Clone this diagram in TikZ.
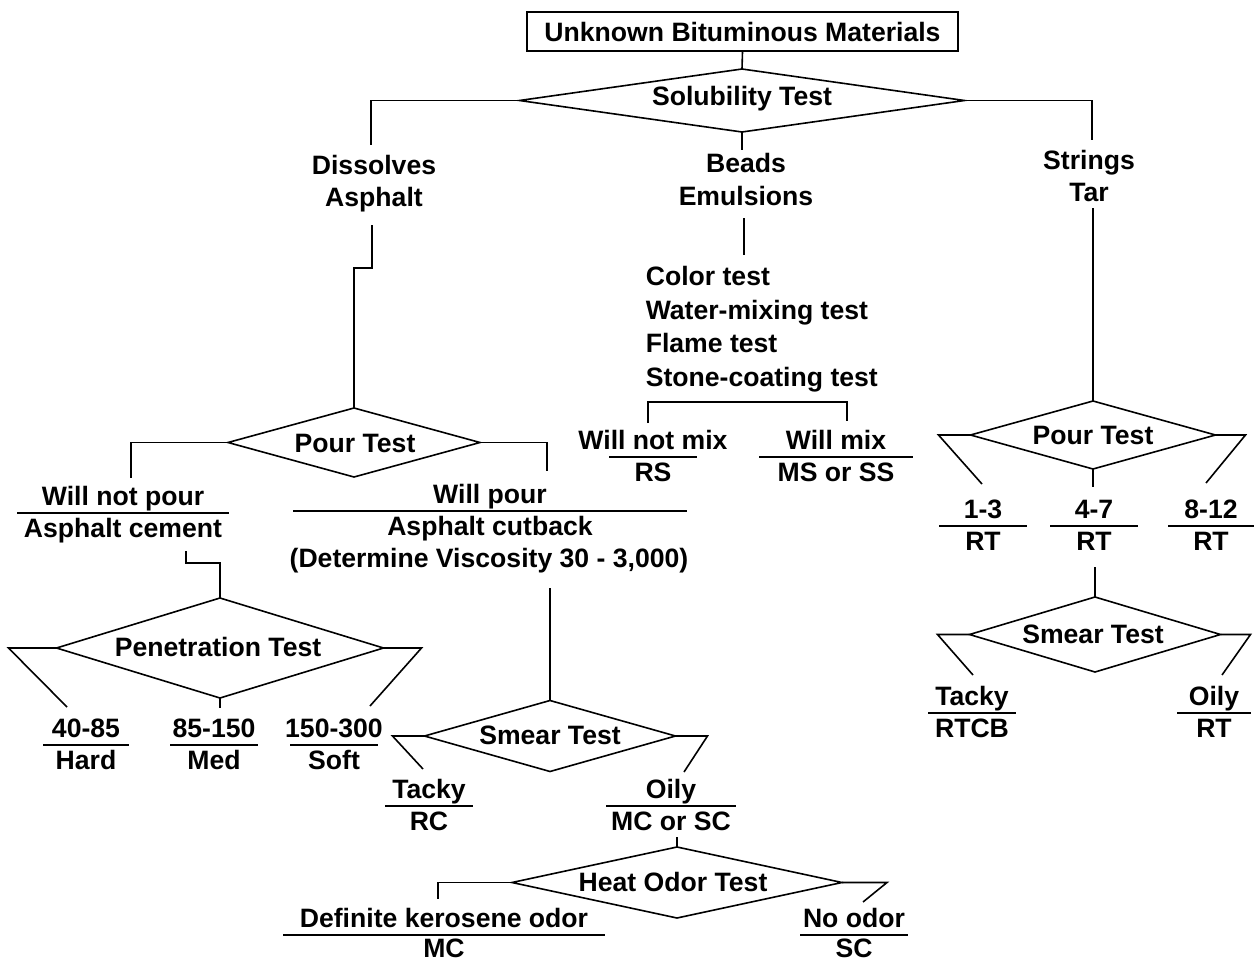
\documentclass[tikz,border=0pt]{standalone}
\usepackage{fontspec}
\setmainfont{Liberation Sans}
\usetikzlibrary{shapes.geometric}
\newcommand\dfont{\fontsize{26.6}{32}\selectfont\bfseries}
\newcommand\frc[7][24]{%
  \coordinate (#2l) at ({#3-#5},#4);
  \coordinate (#2r) at ({#3+#5},#4);
  \draw (#2l) -- (#2r);
  \node[t] (#2a) at (#3,{#4-8}) {#6};
  \node[t] (#2b) at (#3,{#4+#1}) {#7};
}
\begin{document}
\begin{tikzpicture}[x=1pt,y=-1pt,line width=1.6pt,
  t/.style={font=\dfont,inner sep=0pt,anchor=base},
  tl/.style={font=\dfont,inner sep=0pt,anchor=base west},
  dia/.style={diamond,draw,inner sep=0pt,outer sep=0pt,line width=1.6pt},
  dlab/.style={font=\dfont,inner sep=0pt}]
\useasboundingbox[fill=white] (0,0) rectangle (1254,964);

% top box
\node[draw,font=\dfont,inner sep=0pt,minimum width=431,minimum height=39] (box) at (742.5,31.5) {Unknown Bituminous Materials};

% diamonds
\node[dia,minimum width=445,minimum height=63] (sol) at (742,100.5) {};
\node[dlab] (solt) at (742,99) {Solubility Test};
\node[dia,minimum width=252,minimum height=69] (pour1) at (354,442.5) {};
\node[dlab] (pour1t) at (355,443) {Pour Test};
\node[dia,minimum width=327,minimum height=100] (pen) at (220,648) {};
\node[dlab] (pent) at (218,647) {Penetration Test};
\node[dia,minimum width=251,minimum height=71] (sm1) at (550,736) {};
\node[dlab] (sm1t) at (550,735) {Smear Test};
\node[dia,minimum width=330,minimum height=71] (heat) at (677,882.5) {};
\node[dlab] (heatt) at (673,882) {Heat Odor Test};
\node[dia,minimum width=245,minimum height=68] (pour2) at (1093,435) {};
\node[dlab] (pour2t) at (1093,435) {Pour Test};
\node[dia,minimum width=251,minimum height=75] (sm2) at (1095,634.5) {};
\node[dlab] (sm2t) at (1093,634) {Smear Test};

% plain texts
\node[t] (dis1) at (374,174) {Dissolves};
\node[t] (dis2) at (374,206) {Asphalt};
\node[t] (bea1) at (746,172) {Beads};
\node[t] (bea2) at (746,205) {Emulsions};
\node[t] (str1) at (1089,169) {Strings};
\node[t] (str2) at (1089,201) {Tar};
\node[tl] (col1) at (645,285) {Color test};
\node[tl] (col2) at (645,319) {Water-mixing test};
\node[tl] (col3) at (645,352) {Flame test};
\node[tl] (col4) at (645,386) {Stone-coating test};

% fractions
\frc{wnp}{123}{513}{106}{Will not pour}{Asphalt cement}
\frc{wp}{490}{511}{197}{Will pour}{Asphalt cutback}
\node[t] (visc) at (489,567) {(Determine Viscosity 30 - 3,000)};
\frc{hd}{86}{745}{43}{40-85}{Hard}
\frc{md}{214}{745}{44}{85-150}{Med}
\frc{sf}{334}{745}{44}{150-300}{Soft}
\frc{rc}{429}{806}{44}{Tacky}{RC}
\frc{mcsc}{671}{806}{65}{Oily}{MC or SC}
\frc[22]{kmc}{444}{935}{161}{Definite kerosene odor}{MC}
\frc[22]{nsc}{854}{935}{54}{No odor}{SC}
\frc{rs}{653}{457}{44}{Will not mix}{RS}
\frc{mss}{836}{457}{77}{Will mix}{MS or SS}
\frc{ra}{983}{526}{44}{1-3}{RT}
\frc{rb}{1094}{526}{44}{4-7}{RT}
\frc{rcc}{1211}{526}{43}{8-12}{RT}
\frc{rtcb}{972}{713}{44}{Tacky}{RTCB}
\frc{rto}{1214}{713}{37}{Oily}{RT}

% free ends of connectors
\coordinate (cDis) at (371,145);
\coordinate (cStr) at (1092,140);
\coordinate (cBea) at (742,150);
\coordinate (cAsp) at (372,225);
\coordinate (cWnp) at (131,478);
\coordinate (cWp) at (547,471);
\coordinate (cAc) at (186,551);
\coordinate (cH) at (67,707);
\coordinate (cS) at (370,706);
\coordinate (cM) at (220,708);
\coordinate (cV) at (550,588);
\coordinate (cTk) at (423,769);
\coordinate (cOi) at (684,772);
\coordinate (cMC) at (677,837);
\coordinate (cDk) at (438,899);
\coordinate (cNo) at (863,902);
\coordinate (cEm) at (744,218);
\coordinate (cCol) at (744,255);
\coordinate (cRS) at (648,423);
\coordinate (cMS) at (847,421);
\coordinate (cTar) at (1093,208);
\coordinate (c13) at (982,484);
\coordinate (c812) at (1206,483);
\coordinate (c47) at (1093,487);
\coordinate (cRT) at (1095,567);
\coordinate (cTk2) at (973,675);
\coordinate (cOi2) at (1222,675);

% connectors
\draw (box.south) -- (sol.north);
\draw (sol.west) -| (cDis);
\draw (sol.east) -| (cStr);
\draw (sol.south) -- (cBea);
\draw (cAsp) -- ++(0,43) -| (pour1.north);
\draw (pour1.west) -| (cWnp);
\draw (pour1.east) -| (cWp);
\draw (cAc) -- ++(0,12) -| (pen.north);
\draw (pen.west) -- ++(-48,0) -- (cH);
\draw (pen.east) -- ++(38,0) -- (cS);
\draw (pen.south) -- (cM);
\draw (cV) -- (sm1.north);
\draw (sm1.west) -- ++(-32,0) -- (cTk);
\draw (sm1.east) -- ++(32,0) -- (cOi);
\draw (cMC) -- (heat.north);
\draw (heat.west) -| (cDk);
\draw (heat.east) -- ++(45,0) -- (cNo);
\draw (cEm) -- (cCol);
\draw (cRS) -- ++(0,-21) -| (cMS);
\draw (cTar) -- (pour2.north);
\draw (pour2.west) -- ++(-32,0) -- (c13);
\draw (pour2.east) -- ++(30,0) -- (c812);
\draw (pour2.south) -- (c47);
\draw (cRT) -- (sm2.north);
\draw (sm2.west) -- ++(-32,0) -- (cTk2);
\draw (sm2.east) -- ++(30,0) -- (cOi2);
\end{tikzpicture}
\end{document}
